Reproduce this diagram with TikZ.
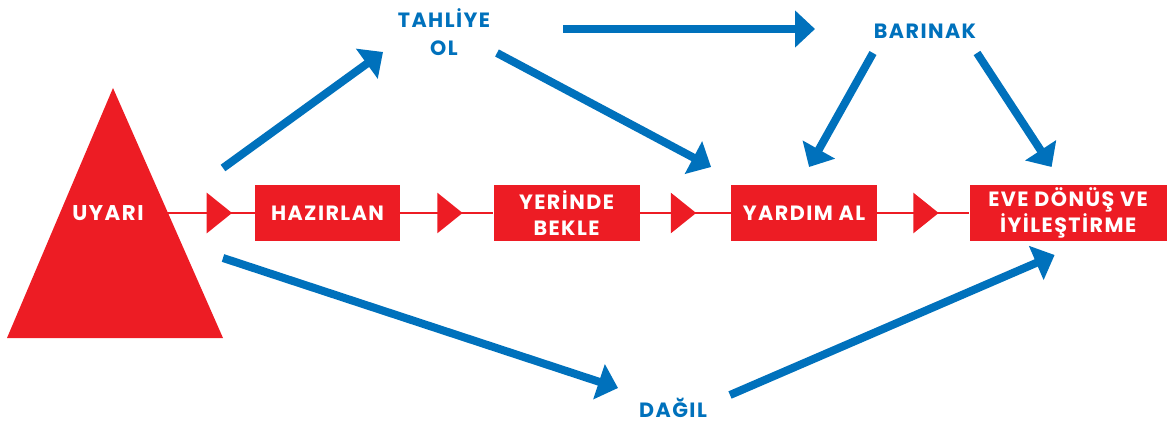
\documentclass[tikz,border=0pt]{standalone}
\usepackage{fontspec}
\setmainfont{Poppins}[LetterSpace=7]
\usetikzlibrary{arrows.meta, positioning, decorations.markings}
\definecolor{afadkirmizi}{HTML}{ED1C24}
\definecolor{afadmavi}{HTML}{0071BC}
\tikzset{
	adim/.style={fill=afadkirmizi, text=white, font=\bfseries\fontsize{15.5}{19.5}\selectfont, align=center, minimum height=42pt, inner sep=0pt},
	etiket/.style={text=afadmavi, font=\bfseries\fontsize{15.5}{21.5}\selectfont, align=center, inner sep=1pt},
	ok/.style={draw=afadmavi, line width=6pt, -{Triangle[length=15pt, width=27pt]}},
	akis/.style={color=afadkirmizi, line width=2.2pt, postaction={decorate, decoration={markings, mark=at position #1 with {\arrow{Triangle[length=19pt, width=30pt]}}}}},
	akis/.default=-23pt
}
\begin{document}
\begin{tikzpicture}[x=0.75pt, y=-0.75pt]

				\useasboundingbox (0,0) rectangle (1172,424);

				\fill[afadkirmizi] (7,338) -- (113,88) -- (223,338) -- cycle;
				\node[text=white, font=\bfseries\fontsize{16}{17}\selectfont] (uyari) at (108,213) {UYARI};

				\node[adim, minimum width=108.75pt] (hazirlan) at (327.5,213) {HAZIRLAN};
				\node[adim, minimum width=109.5pt, right=69.75pt of hazirlan] (yerinde) {YERİNDE\\BEKLE};
				\node[adim, minimum width=109.5pt, right=68.25pt of yerinde] (yardim) {YARDIM AL};
				\node[adim, minimum width=147.75pt, right=69pt of yardim] (eve) {EVE DÖNÜŞ VE\\İYİLEŞTİRME};

				\draw[akis=-17pt] (uyari) -- (hazirlan);
				\draw[akis] (hazirlan) -- (yerinde);
				\draw[akis=-26pt] (yerinde) -- (yardim);
				\draw[akis] (yardim) -- (eve);

				\node[etiket] (tahliye) at (444,32) {TAHLİYE\\OL};
				\node[etiket] (barinak) at (925,31) {BARINAK};
				\node[etiket] (dagil) at (673,408) {DAĞIL};

				\draw[ok] ([shift={(115,-45)}]uyari.center) -- ([shift={(-61,20)}]tahliye.center);
				\draw[ok] ([shift={(119,-3)}]tahliye.center) -- ([shift={(-110,-2)}]barinak.center);
				\draw[ok] ([shift={(53,21)}]tahliye.center) -- ([shift={(-93,-46)}]yardim.center);
				\draw[ok] ([shift={(-52,22)}]barinak.center) -- ([shift={(5,-46)}]yardim.center);
				\draw[ok] ([shift={(52,22)}]barinak.center) -- ([shift={(-16.5,-46)}]eve.center);
				\draw[ok] ([shift={(115,45)}]uyari.center) -- ([shift={(-55,-20)}]dagil.center);
				\draw[ok] ([shift={(57,-13)}]dagil.center) -- ([shift={(-13.5,42)}]eve.center);

			\end{tikzpicture}
\end{document}
